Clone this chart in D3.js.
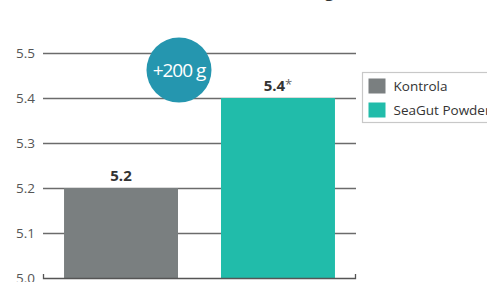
<!DOCTYPE html>
<html>
<head>
<meta charset="utf-8">
<script src="https://cdn.jsdelivr.net/npm/d3@7"></script>
<style>
  body { margin: 0; background: #fff; }
  text { font-family: "Open Sans", sans-serif; }
</style>
</head>
<body>
<script>
// data
const groups = ["Kontrola", "SeaGut Powder"];
const values = [5.2, 5.4];
const valueLabels = ["5.2", "5.4"];
const starred = [false, true];
const yTicks = [5.0, 5.1, 5.2, 5.3, 5.4, 5.5];
const colors = ["#7a7f80", "#21bcaa"];
const badgeText = "+200 g";

const W = 487, H = 282;
const margin = {top: 53, right: 131, bottom: 4, left: 43},
    width = W - margin.left - margin.right,
    height = H - margin.top - margin.bottom;

const svg = d3.select("body")
    .append("svg")
    .attr("width", W)
    .attr("height", H);

// title cut off at top of picture
svg.append("text")
    .attr("x", 334)
    .attr("y", -3)
    .attr("text-anchor", "end")
    .style("font-size", "17px")
    .attr("fill", "#333")
    .text("Hmotnost, g");

const g = svg.append("g")
    .attr("transform", `translate(${margin.left}, ${margin.top})`);

const x = d3.scaleBand()
    .domain(groups)
    .range([0, width])
    .paddingInner(0.274)
    .paddingOuter(0.134);

const y = d3.scaleLinear()
    .domain([5.0, 5.5])
    .range([height, 0]);

// grid lines
g.append("g")
    .call(d3.axisLeft(y)
        .tickValues(yTicks.filter(d => d > 5.0))
        .tickSize(-width)
        .tickFormat(""))
    .call(a => a.select(".domain").remove())
    .selectAll("line")
    .attr("stroke", "#6b6b6b")
    .attr("stroke-width", 1.3);

// y labels
g.append("g")
    .call(d3.axisLeft(y)
        .tickValues(yTicks)
        .tickSize(0)
        .tickPadding(8)
        .tickFormat(d3.format(".1f")))
    .call(a => a.select(".domain").remove())
    .selectAll("text")
    .attr("fill", "#555")
    .style("font-size", "13.5px");

// bars
g.selectAll("rect.bar")
    .data(groups)
    .join("rect")
    .attr("class", "bar")
    .attr("x", d => x(d))
    .attr("y", (d, i) => y(values[i]))
    .attr("width", x.bandwidth())
    .attr("height", (d, i) => height - y(values[i]))
    .attr("fill", (d, i) => colors[i]);

// baseline axis
g.append("path")
    .attr("d", `M0.5,${height - 4}V${height + 0.5}H${width - 0.5}V${height - 4}`)
    .attr("fill", "none")
    .attr("stroke", "#555")
    .attr("stroke-width", 1.3);

// value labels
const lbl = g.selectAll("text.val")
    .data(groups)
    .join("text")
    .attr("class", "val")
    .attr("x", d => x(d) + x.bandwidth() / 2)
    .attr("y", (d, i) => y(values[i]) - 7)
    .attr("text-anchor", "middle")
    .attr("fill", "#333")
    .style("font-size", "15px");
lbl.append("tspan")
    .style("font-weight", "bold")
    .text((d, i) => valueLabels[i]);
lbl.append("tspan")
    .attr("fill", "#666")
    .style("font-size", "13px")
    .attr("dy", -2)
    .text((d, i) => starred[i] ? "*" : "");

// badge
const bx = x(groups[0]) + x.bandwidth() + 1;
const by = y(5.462);
g.append("circle")
    .attr("cx", bx)
    .attr("cy", by)
    .attr("r", 32.5)
    .attr("fill", "#2596af");
g.append("text")
    .attr("x", bx)
    .attr("y", by + 7)
    .attr("text-anchor", "middle")
    .attr("fill", "#fff")
    .style("font-size", "19px")
    .style("letter-spacing", "-1px")
    .text(badgeText);

// legend
const leg = svg.append("g")
    .attr("transform", "translate(362.5, 72.5)");
leg.append("rect")
    .attr("width", 140)
    .attr("height", 50)
    .attr("fill", "#fff")
    .attr("stroke", "#c8c8c8")
    .attr("stroke-width", 1.2);
const li = leg.selectAll("g.item")
    .data(groups)
    .join("g")
    .attr("class", "item")
    .attr("transform", (d, i) => `translate(6, ${6 + i * 24})`);
li.append("rect")
    .attr("width", 17)
    .attr("height", 15)
    .attr("fill", (d, i) => colors[i]);
li.append("text")
    .attr("x", 25)
    .attr("y", 12)
    .attr("fill", "#333")
    .style("font-size", "13.5px")
    .text(d => d);
</script>
</body>
</html>
